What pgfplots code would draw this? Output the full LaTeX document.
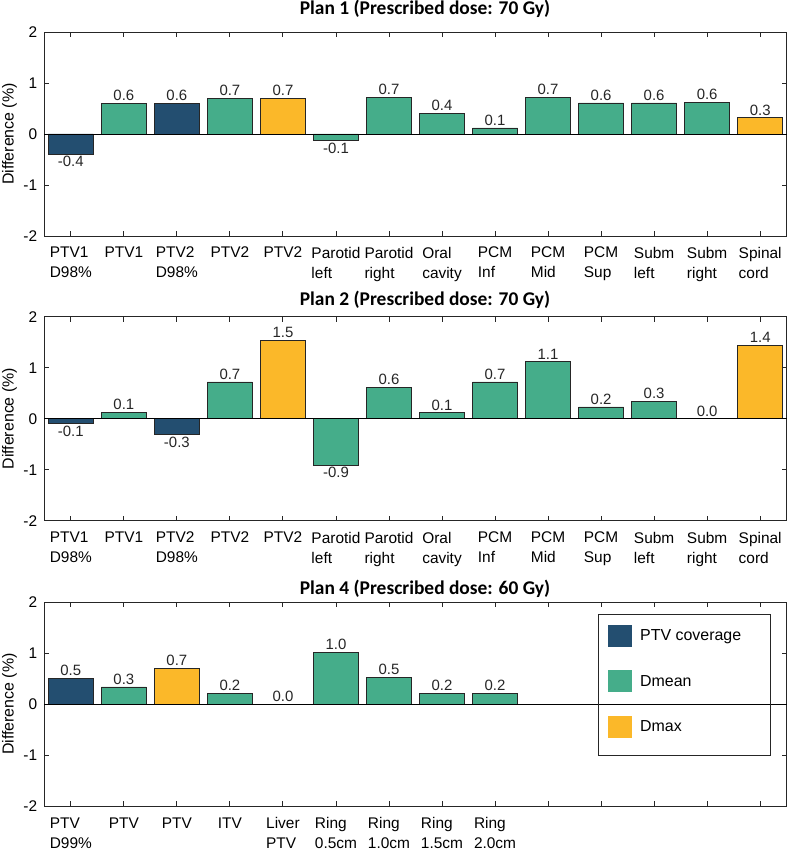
\documentclass[border=0pt]{standalone}
\usepackage{fontspec}
\setmainfont{Liberation Sans}
\newfontfamily\titlefont{Carlito}
\usepackage{pgfplots}
\pgfplotsset{compat=1.18}

\definecolor{cov}{HTML}{234E70}
\definecolor{dmean}{HTML}{45AD8A}
\definecolor{dmax}{HTML}{FBB829}

\pgfplotsset{
  /pgf/number format/assume math mode=true,
  diffaxis/.style={
    scale only axis, width=742.4bp, height=204bp,
    xmin=0.5, xmax=14.5, ymin=-2, ymax=2,
    xtick={1,...,14}, ytick={-2,-1,0,1,2},
    axis line style={line width=0.9bp, black!85},
    major tick length=5bp,
    tick style={black!85, line width=0.9bp},
    yticklabel style={font=\fontsize{15.5}{18}\selectfont, inner sep=0pt, xshift=-7bp},
    xticklabel style={font=\fontsize{15.5}{20}\selectfont, align=left, anchor=north, inner sep=0pt, yshift=-11bp},
    clip=false,
  },
  mybar/.style={
    ybar, bar width=0.85, bar shift=0pt,
    fill=#1, draw=black!85, line width=0.6bp,
    nodes near coords={\pgfmathprintnumber[fixed,fixed zerofill,precision=1]{\pgfplotspointmeta}},
    nodes near coords align={vertical},
    every node near coord/.append style={font=\fontsize{15}{16}\selectfont, text=black!85, inner sep=2bp},
  },
  zeroline/.style={sharp plot, no marks, black, line width=0.9bp, forget plot},
}

\begin{document}
\begin{tikzpicture}
\path[use as bounding box] (0,0) rectangle (789bp,-852bp);

% ---------- Plan 1 ----------
\begin{axis}[diffaxis, at={(44.3bp,-32bp)}, anchor=north west,
  xticklabels={{PTV1\\D98\%},PTV1,{PTV2\\D98\%},PTV2,PTV2,{Parotid\\left},{Parotid\\right},{Oral\\cavity},{PCM\\Inf},{PCM\\Mid},{PCM\\Sup},{Subm\\left},{Subm\\right},{Spinal\\cord}}]
\addplot[mybar=cov] coordinates {(1,-0.39) (3,0.60)};
\addplot[mybar=dmean] coordinates {(2,0.60) (4,0.70) (6,-0.13) (7,0.72) (8,0.41) (9,0.12) (10,0.72) (11,0.61) (12,0.61) (13,0.62)};
\addplot[mybar=dmax] coordinates {(5,0.70) (14,0.32)};
\addplot[zeroline] coordinates {(0.5,0) (14.5,0)};
\end{axis}

% ---------- Plan 2 ----------
\begin{axis}[diffaxis, at={(44.3bp,-316.7bp)}, anchor=north west,
  xticklabels={{PTV1\\D98\%},PTV1,{PTV2\\D98\%},PTV2,PTV2,{Parotid\\left},{Parotid\\right},{Oral\\cavity},{PCM\\Inf},{PCM\\Mid},{PCM\\Sup},{Subm\\left},{Subm\\right},{Spinal\\cord}}]
\addplot[mybar=cov] coordinates {(1,-0.09) (3,-0.31)};
\addplot[mybar=dmean] coordinates {(2,0.13) (4,0.72) (6,-0.91) (7,0.62) (8,0.12) (9,0.72) (10,1.12) (11,0.23) (12,0.34) (13,0)};
\addplot[mybar=dmax] coordinates {(5,1.54) (14,1.44)};
\addplot[zeroline] coordinates {(0.5,0) (14.5,0)};
\end{axis}

% ---------- Plan 4 ----------
\begin{axis}[diffaxis, at={(44.3bp,-602.3bp)}, anchor=north west,
  xticklabels={{PTV\\D99\%},PTV,PTV,ITV,{Liver\\PTV},{Ring\\0.5cm},{Ring\\1.0cm},{Ring\\1.5cm},{Ring\\2.0cm},{},{},{},{},{}},
  legend style={at={(0.7465,0.935)}, anchor=north west, draw=none, fill=none,
    font=\fontsize{16}{18}\selectfont, inner xsep=9bp, inner ysep=9bp, row sep=23.5bp,
    cells={anchor=west}, nodes={inner ysep=4bp, inner xsep=3.5bp},
    /tikz/every odd column/.append style={column sep=5bp}},
  legend image code/.code={\path[#1,draw=none] (0bp,-11bp) rectangle (24bp,11bp);},
  legend cell align=left]
\addplot[mybar=cov] coordinates {(1,0.51)};
\addlegendentry{PTV coverage}
\addplot[mybar=dmean] coordinates {(2,0.34) (4,0.22) (5,0) (6,1.02) (7,0.53) (8,0.22) (9,0.22)};
\addlegendentry{Dmean}
\addplot[mybar=dmax] coordinates {(3,0.71)};
\addlegendentry{Dmax}
\addplot[zeroline] coordinates {(0.5,0) (14.5,0)};
\draw[black!85, line width=0.8bp] (rel axis cs:0.7465,0.9425) rectangle (rel axis cs:0.9775,0.2515);
\end{axis}

% titles
\node[font=\titlefont\bfseries\fontsize{19.5}{22}\selectfont] at (425bp,-9bp) {Plan 1 (Prescribed dose: 70 Gy)};
\node[font=\titlefont\bfseries\fontsize{19.5}{22}\selectfont] at (425bp,-300bp) {Plan 2 (Prescribed dose: 70 Gy)};
\node[font=\titlefont\bfseries\fontsize{19.5}{22}\selectfont] at (425bp,-589bp) {Plan 4 (Prescribed dose: 60 Gy)};
% y labels
\foreach \yc in {-134, -418.7, -704} {
  \node[rotate=90, font=\fontsize{16}{18}\selectfont] at (9.5bp,\yc bp) {Difference (\%)};
}
\end{tikzpicture}
\end{document}
